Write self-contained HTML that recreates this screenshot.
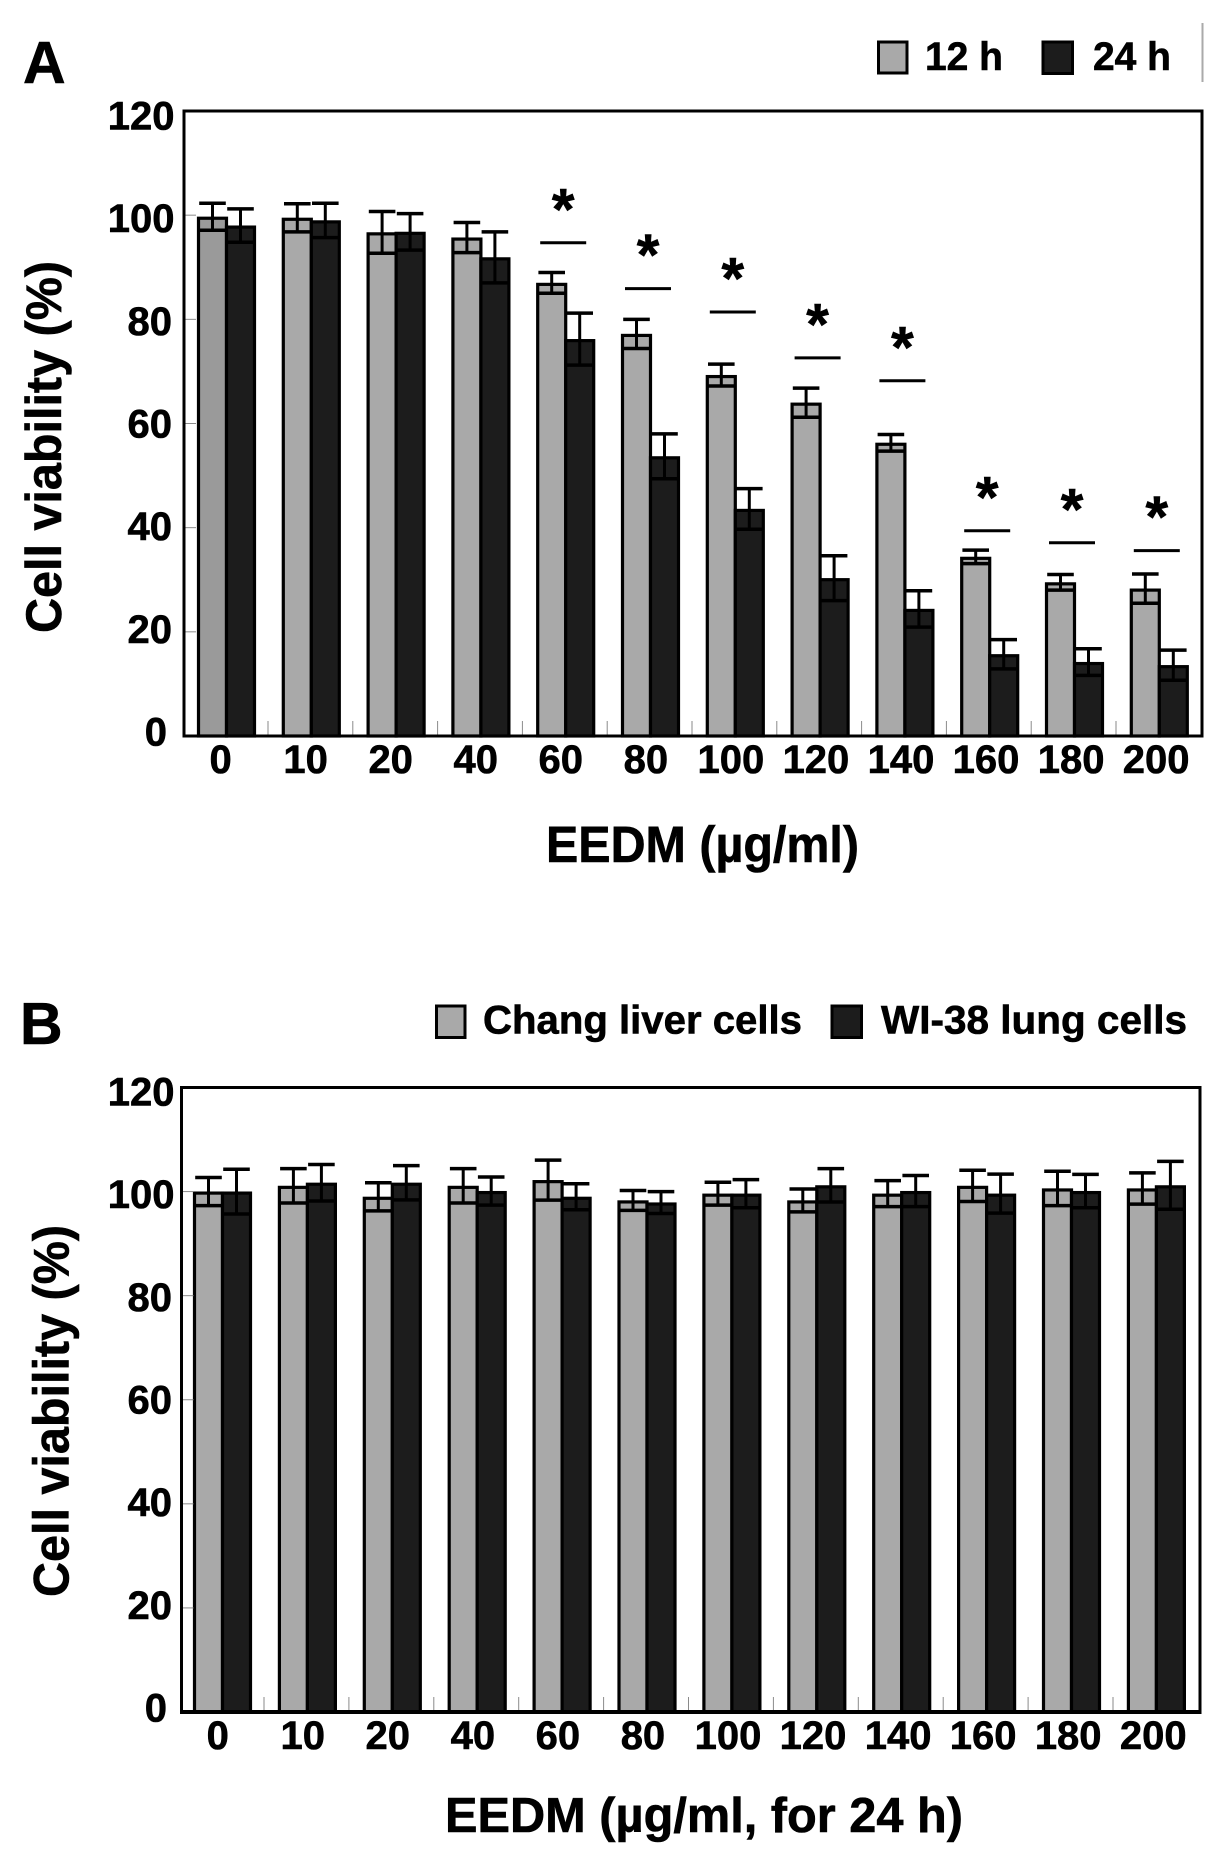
<!DOCTYPE html>
<html lang="en">
<head>
<meta charset="utf-8">
<title>Cell viability charts</title>
<style>
  html, body { margin: 0; padding: 0; background: #fff; }
  body { width: 1228px; height: 1867px; overflow: hidden; }
  svg { display: block; }
  text { font-family: "Liberation Sans", "DejaVu Sans", sans-serif; font-weight: 700; fill: #000; stroke: #000; stroke-width: 0.6px; }
</style>
</head>
<body>
<svg id="figure" xmlns="http://www.w3.org/2000/svg" width="1228" height="1867" viewBox="0 0 1228 1867">
  <rect x="0" y="0" width="1228" height="1867" fill="#fff"/>

  <text x="23" y="83" font-size="59">A</text>
  <rect x="878.5" y="42" width="28.5" height="31" fill="#a9a9a9" stroke="#000" stroke-width="3"/>
  <text x="925" y="70" font-size="40" textLength="78" lengthAdjust="spacingAndGlyphs">12 h</text>
  <rect x="1043" y="42" width="29.5" height="31.5" fill="#1c1c1c" stroke="#000" stroke-width="3"/>
  <text x="1093" y="70" font-size="40" textLength="78" lengthAdjust="spacingAndGlyphs">24 h</text>
  <rect x="1201.5" y="23" width="2" height="59" fill="#aaa"/>
  <text transform="translate(61,633) rotate(-90)" font-size="50" textLength="372" lengthAdjust="spacingAndGlyphs">Cell viability (%)</text>
  <text x="546" y="862" font-size="51" textLength="313" lengthAdjust="spacingAndGlyphs">EEDM (µg/ml)</text>

  <text x="20" y="1044" font-size="59">B</text>
  <rect x="436.5" y="1006" width="28.5" height="31.5" fill="#a9a9a9" stroke="#000" stroke-width="3"/>
  <text x="483" y="1033.5" font-size="40" textLength="319" lengthAdjust="spacingAndGlyphs">Chang liver cells</text>
  <rect x="832" y="1006" width="29.5" height="31.5" fill="#1c1c1c" stroke="#000" stroke-width="3"/>
  <text x="881" y="1033.5" font-size="40" textLength="306" lengthAdjust="spacingAndGlyphs">WI-38 lung cells</text>
  <text transform="translate(68.5,1597) rotate(-90)" font-size="50" textLength="372" lengthAdjust="spacingAndGlyphs">Cell viability (%)</text>
  <text x="445" y="1832" font-size="49" textLength="518" lengthAdjust="spacingAndGlyphs">EEDM (µg/ml, for 24 h)</text>
</svg>

<script>
var categories = ['0', '10', '20', '40', '60', '80', '100', '120', '140', '160', '180', '200'];
var yTickValues = [0, 20, 40, 60, 80, 100, 120];

var panelA12h = [99.7, 99.5, 96.7, 95.7, 87, 77.2, 69.3, 64, 56.3, 34.4, 29.5, 28.3];
var panelA12hErr = [2.6, 2.7, 4, 2.9, 2, 2.8, 2.1, 2.8, 1.6, 1.3, 1.5, 2.8];
var panelA24h = [98, 99, 96.8, 91.9, 76.2, 53.7, 43.6, 30.3, 24.4, 15.7, 14.2, 13.6];
var panelA24hErr = [3.2, 3.3, 3.5, 4.9, 5, 4.3, 3.9, 4.3, 3.5, 2.8, 2.55, 2.9];
var panelASigGroups = ['60', '80', '100', '120', '140', '160', '180', '200'];
var panelASigLevels = [94.7, 85.9, 81.4, 72.6, 68.2, 39.4, 37.1, 35.6];

var panelBChang = [100, 101.1, 99, 101.1, 102.2, 98.3, 99.6, 98.3, 99.6, 101.1, 100.6, 100.6];
var panelBChangErr = [2.7, 3.3, 2.7, 3.3, 3.85, 1.9, 2.2, 2.2, 2.5, 3, 3.3, 3];
var panelBWi38 = [100, 101.7, 101.7, 100.1, 99, 97.9, 99.6, 101.2, 100.1, 99.6, 100.1, 101.2];
var panelBWi38Err = [4.3, 3.5, 3.3, 2.7, 2.5, 2.1, 2.7, 3.2, 3, 3.75, 3.2, 4.6];

var svg = document.getElementById('figure');
var NS = 'http://www.w3.org/2000/svg';

function make(tag, attrs, parent) {
  var el = document.createElementNS(NS, tag);
  for (var k in attrs) { el.setAttribute(k, attrs[k]); }
  (parent || svg).appendChild(el);
  return el;
}

function drawErrorBar(group, cx, yScale, value, err) {
  var top = yScale(value + err);
  var bottom = yScale(value - err);
  var stem = make('line', { x1: cx, x2: cx, y1: top, y2: bottom, stroke: '#000', 'stroke-width': 3 }, group);
  
  
  var capTop = make('line', { x1: cx - 13.3, x2: cx + 13.3, y1: top, y2: top, stroke: '#000', 'stroke-width': 3.5 }, group);
  
  
  var capBottom = make('line', { x1: cx - 13.3, x2: cx + 13.3, y1: bottom, y2: bottom, stroke: '#000', 'stroke-width': 3.5 }, group);
  
  
}

function drawPanel(p) {
  var perUnit = (p.bottom - p.top) / 120;
  function yScale(v) { return p.bottom - v * perUnit; }
  function bandStart(i) { return p.start + i * p.pitch; }
  function labelY(v) { return p.bottom - 5 - v * 5.133; }
  function labelRight(v) { return v >= 100 ? 174.5 : (v === 0 ? 167 : 172); }

  var panel = make('g', {});
  
  

  categories.forEach(function (cat, i) {
    var x0 = bandStart(i);
    var g = make('g', {}, panel);
    
    

    var yA = yScale(p.seriesA[i]);
    var barA = make('rect', {
      x: x0 + 1.5, y: yA + 1.5, width: 28, height: p.bottom - yA - 1.5,
      fill: (i === 0 && p.firstFill) ? p.firstFill : '#a9a9a9', stroke: '#000', 'stroke-width': 3.2
    }, g);
    
    

    var yB = yScale(p.seriesB[i]);
    var barB = make('rect', {
      x: x0 + 29.5, y: yB + 1.5, width: 28, height: p.bottom - yB - 1.5,
      fill: '#1c1c1c', stroke: '#000', 'stroke-width': 3.2
    }, g);
    
    

    drawErrorBar(g, x0 + 15.5, yScale, p.seriesA[i], p.errA[i]);
    drawErrorBar(g, x0 + 43.5, yScale, p.seriesB[i], p.errB[i]);

    var label = make('text', { x: p.labelStart + i * 85.05, y: p.bottom + 37, 'font-size': 40, 'text-anchor': 'middle' }, panel);
    label.textContent = cat;
    
    

    if (i < categories.length - 1) {
      var tx = x0 + 71;
      var tick = make('line', { x1: tx, x2: tx, y1: p.bottom - 15, y2: p.bottom, stroke: '#8a8a8a', 'stroke-width': 1 }, panel);
      
      
    }
  });

  yTickValues.forEach(function (v) {
    if (v !== 0 && v !== 120) {
      var tick = make('line', { x1: p.left, x2: p.left + 12, y1: yScale(v), y2: yScale(v), stroke: '#8a8a8a', 'stroke-width': 1 }, panel);
      
      
    }
    var label = make('text', { x: labelRight(v), y: labelY(v) + 14.5, 'font-size': 40, 'text-anchor': 'end' }, panel);
    label.textContent = String(v);
    
    
  });

  var frame = make('path', {
    d: 'M' + p.left + ' ' + p.bottom + 'V' + p.top + 'H' + p.right + 'V' + p.bottom,
    fill: 'none', stroke: '#000', 'stroke-width': 3
  }, panel);
  
  

  var axis = make('line', { x1: p.left - 1.5, x2: p.right + 1.5, y1: p.bottom, y2: p.bottom, stroke: '#000', 'stroke-width': p.axisWidth }, panel);
  
  

  if (p.sigGroups) {
    p.sigGroups.forEach(function (cat, k) {
      var cx = bandStart(categories.indexOf(cat)) + 27;
      var ly = yScale(p.sigLevels[k]);
      var line = make('line', { x1: cx - 23, x2: cx + 23, y1: ly, y2: ly, stroke: '#000', 'stroke-width': 3 }, panel);
      
      
      var star = make('text', { x: cx, y: ly - 13.5, 'font-size': 58, 'text-anchor': 'middle' }, panel);
      star.textContent = '*';
      
      
    });
  }
}

drawPanel({
  name: 'panel-a-chart', left: 184, right: 1202, top: 111, bottom: 736, start: 197, pitch: 84.8, labelStart: 220.6, axisWidth: 3,
  firstFill: '#9a9a9a',
  seriesA: panelA12h, errA: panelA12hErr, seriesB: panelA24h, errB: panelA24hErr,
  sigGroups: panelASigGroups, sigLevels: panelASigLevels
});
drawPanel({
  name: 'panel-b-chart', left: 181.5, right: 1200, top: 1087.5, bottom: 1712, start: 193, pitch: 84.9, labelStart: 217.7, axisWidth: 4,
  seriesA: panelBChang, errA: panelBChangErr, seriesB: panelBWi38, errB: panelBWi38Err
});
</script>
</body>
</html>
